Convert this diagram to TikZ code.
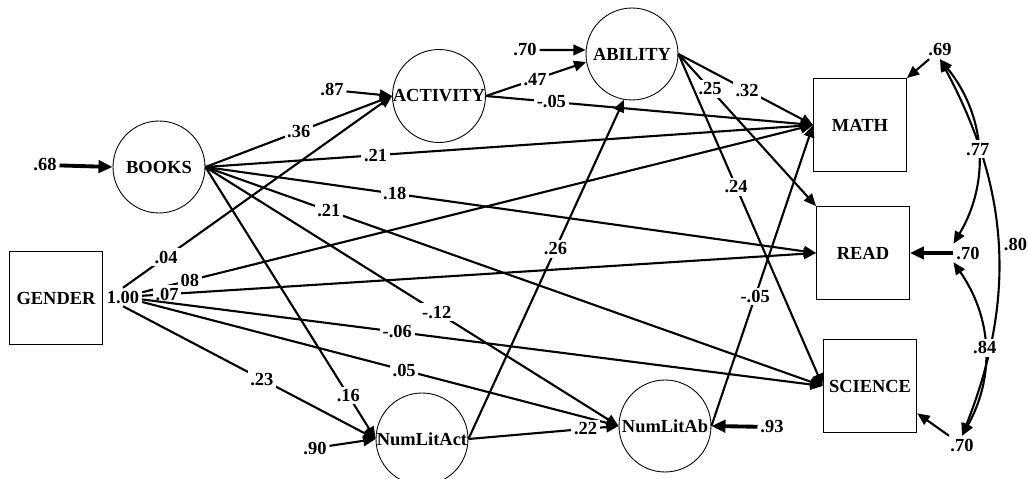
\documentclass[tikz,border=0pt]{standalone}
\usepackage{fontspec}
\setmainfont{Liberation Serif}
\usetikzlibrary{arrows.meta}

\begin{document}
\begin{tikzpicture}[x=0.02cm, y=-0.02cm,
    every node/.style={font=\fontsize{10.5}{12}\selectfont\bfseries},
    latent/.style={circle, draw, line width=0.5pt, minimum size=1.84cm, inner sep=0pt},
    observed/.style={rectangle, draw, line width=0.5pt, minimum width=1.86cm, minimum height=1.86cm},
    coef/.style={fill=white, inner sep=1.5pt},
    effect/.style={-{Triangle[length=7pt,width=6pt]}, line width=1.2pt},
    errarrow/.style={-{Triangle[length=8pt,width=7pt]}, line width=2.2pt},
    corr/.style={{Triangle[length=7pt,width=6pt]}-{Triangle[length=7pt,width=6pt]}, line width=1.2pt}]
  \useasboundingbox (0,0) rectangle (1028,479);

  \node[latent] (BOOKS) at (159,167) {BOOKS};
  \node[latent] (ACTIVITY) at (439,96) {ACTIVITY};
  \node[latent] (ABILITY) at (632,54) {ABILITY};
  \node[latent] (NumLitAct) at (422,439) {NumLitAct};
  \node[latent] (NumLitAb) at (665,426) {NumLitAb};
  \node[observed] (GENDER) at (56,298) {GENDER};
  \node[observed] (MATH) at (860,125) {MATH};
  \node[observed] (READ) at (863,253) {READ};
  \node[observed] (SCIENCE) at (870,386) {SCIENCE};

  \node[coef] (g100) at (123,297) {1.00};
  \node[coef] (e68) at (45,165) {.68};
  \node[coef] (e87) at (332,90) {.87};
  \node[coef] (e70a) at (525,50) {.70};
  \node[coef] (e90) at (315,448) {.90};
  \node[coef] (e93) at (772,427) {.93};
  \node[coef] (e69) at (940,50) {.69};
  \node[coef] (e70r) at (968,253) {.70};
  \node[coef] (e70s) at (962,445) {.70};

  \draw[errarrow] (e68) -- (BOOKS.west);
  \draw[effect] (e87) -- (ACTIVITY.west);
  \draw[effect] (e70a) -- (ABILITY.175);
  \draw[effect] (e90) -- (NumLitAct.west);
  \draw[errarrow] (e93) -- (NumLitAb.east);
  \draw[effect] (e69) -- (MATH.north east);
  \draw[errarrow] (e70r) -- (READ.east);
  \draw[effect] (e70s) -- (SCIENCE.330);

  \draw[effect] (BOOKS.east) -- node[coef, pos=.5] {.36} (ACTIVITY.west);
  \draw[effect] (BOOKS.east) -- node[coef, pos=.28] {.21} (MATH.west);
  \draw[effect] (BOOKS.east) -- node[coef, pos=.31] {.18} (READ.west);
  \draw[effect] (BOOKS.east) -- node[coef, pos=.2] {.21} (SCIENCE.west);
  \draw[effect] (BOOKS.east) -- node[coef, pos=.56] {-.12} (NumLitAb.west);
  \draw[effect] (BOOKS.east) -- node[coef, pos=.84] {.16} (NumLitAct.west);

  \draw[effect] (g100.north) -- node[coef, pos=.16] {.04} (ACTIVITY.west);
  \draw[effect] (g100) -- node[coef, pos=.071] {08} (MATH.west);
  \draw[effect] (g100) -- node[coef, pos=.037] {.07} (READ.west);
  \draw[effect] (g100) -- node[coef, pos=.375] {-.06} (SCIENCE.west);
  \draw[effect] (g100) -- node[coef, pos=.55] {.05} (NumLitAb.west);
  \draw[effect] (g100.south) -- node[coef, pos=.55] {.23} (NumLitAct.west);

  \draw[effect] (ACTIVITY.east) -- node[coef, pos=.49] {.47} (ABILITY.190);
  \draw[effect] (ACTIVITY.east) -- node[coef, pos=.2] {-.05} (MATH.west);
  \draw[effect] (ABILITY.east) -- node[coef, pos=.51] {.32} (MATH.west);
  \draw[effect] (ABILITY.east) -- node[coef, pos=.23] {.25} (READ.north west);
  \draw[effect] (ABILITY.east) -- node[coef, pos=.4] {.24} (SCIENCE.west);
  \draw[effect] (NumLitAct.east) -- node[coef, pos=.56] {.26} (ABILITY.260);
  \draw[effect] (NumLitAct.east) -- node[coef, pos=.78] {.22} (NumLitAb.west);
  \draw[effect] (NumLitAb.east) -- node[coef, pos=.43] {-.05} (MATH.west);

  \draw[corr] (e69.south) to[bend left=25] node[right, inner sep=3pt] {.80} (e70s.north);
  \draw[corr] (e69.south) to[bend left=35] node[coef] {.77} (e70r.north west);
  \draw[corr] (e70r.south west) to[bend left=32] node[coef] {.84} (e70s.north);
\end{tikzpicture}
\end{document}
